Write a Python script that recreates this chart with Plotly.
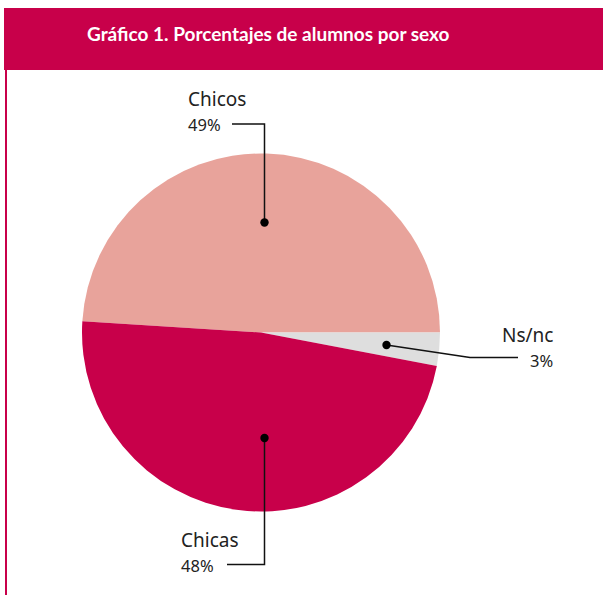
import plotly.graph_objects as go

W, H = 603, 595

# ---- data ----
categories = ["Chicos", "Ns/nc", "Chicas"]
values = [49, 3, 48]
colors = ["#E8A39B", "#DEDEDE", "#C8004A"]
title_text = "Gráfico 1. Porcentajes de alumnos por sexo"

CRIMSON = "#C8004A"

fig = go.Figure()

# pie placed in pixel box (centre 261,332.5 ; radius 179)
cx, cy, r = 261, 332.5, 179
fig.add_trace(go.Pie(
    labels=categories, values=values, sort=False, direction="clockwise",
    rotation=90 - values[0] * 3.6,
    marker=dict(colors=colors, line=dict(width=0)),
    textinfo="none", hoverinfo="skip", showlegend=False,
    domain=dict(x=[(cx - r) / W, (cx + r) / W], y=[1 - (cy + r) / H, 1 - (cy - r) / H]),
))
# invisible cartesian trace so the overlay axes exist
fig.add_trace(go.Scatter(x=[0], y=[0], mode="markers", marker=dict(opacity=0),
                         hoverinfo="skip", showlegend=False))

# leader lines (pixel coordinates on a hidden overlay axis)
leaders = [
    ([264.5, 264.5, 232], [222.5, 124, 124]),
    ([386.5, 470, 518], [345, 357.5, 357.5]),
    ([264.5, 264.5, 227], [438, 564.5, 564.5]),
]

shapes = [
    dict(type="rect", xref="x", yref="y", x0=4, x1=W, y0=8, y1=70, fillcolor=CRIMSON,
         line=dict(width=0), layer="below"),
    dict(type="line", xref="x", yref="y", x0=6, x1=6, y0=70, y1=H, line=dict(color=CRIMSON, width=2)),
]
for lx, ly in leaders:
    path = "M " + " L ".join(f"{a},{b}" for a, b in zip(lx, ly))
    shapes.append(dict(type="path", xref="x", yref="y", path=path, layer="above",
                       line=dict(color="#111111", width=1.5)))
    rd = 4.2
    shapes.append(dict(type="circle", xref="x", yref="y", x0=lx[0] - rd, x1=lx[0] + rd,
                       y0=ly[0] - rd, y1=ly[0] + rd, fillcolor="#000000",
                       line=dict(width=0), layer="above"))

label_pos = [
    (186, 99, 186, 124, "left"),
    (555, 335, 555, 360.5, "right"),
    (179, 540, 179, 565.5, "left"),
]
ann = []
for cat, val, (nx, ny, vx, vy, anc) in zip(categories, values, label_pos):
    ann.append(dict(x=nx, y=ny, xref="x", yref="y", text=cat, showarrow=False, xanchor=anc,
                    yanchor="middle", font=dict(family="Noto Sans", size=19, color="#222222")))
    ann.append(dict(x=vx, y=vy, xref="x", yref="y", text=f"{val}%", showarrow=False, xanchor=anc,
                    yanchor="middle", font=dict(family="Noto Sans", size=16.5, color="#222222")))
ann.append(dict(x=268, y=33, xref="x", yref="y", text=f"<b>{title_text}</b>", showarrow=False,
                xanchor="center", yanchor="middle", font=dict(family="Lato", size=19, color="white")))

fig.update_layout(
    width=W, height=H, autosize=False, margin=dict(l=0, r=0, t=0, b=0),
    paper_bgcolor="white", plot_bgcolor="rgba(0,0,0,0)",
    xaxis=dict(range=[0, W], visible=False, fixedrange=True, domain=[0, 1]),
    yaxis=dict(range=[H, 0], visible=False, fixedrange=True, domain=[0, 1]),
    annotations=ann, shapes=shapes,
)

fig.write_html("out.html", config={"displayModeBar": False},
               post_script="document.body.style.margin='0px';")
